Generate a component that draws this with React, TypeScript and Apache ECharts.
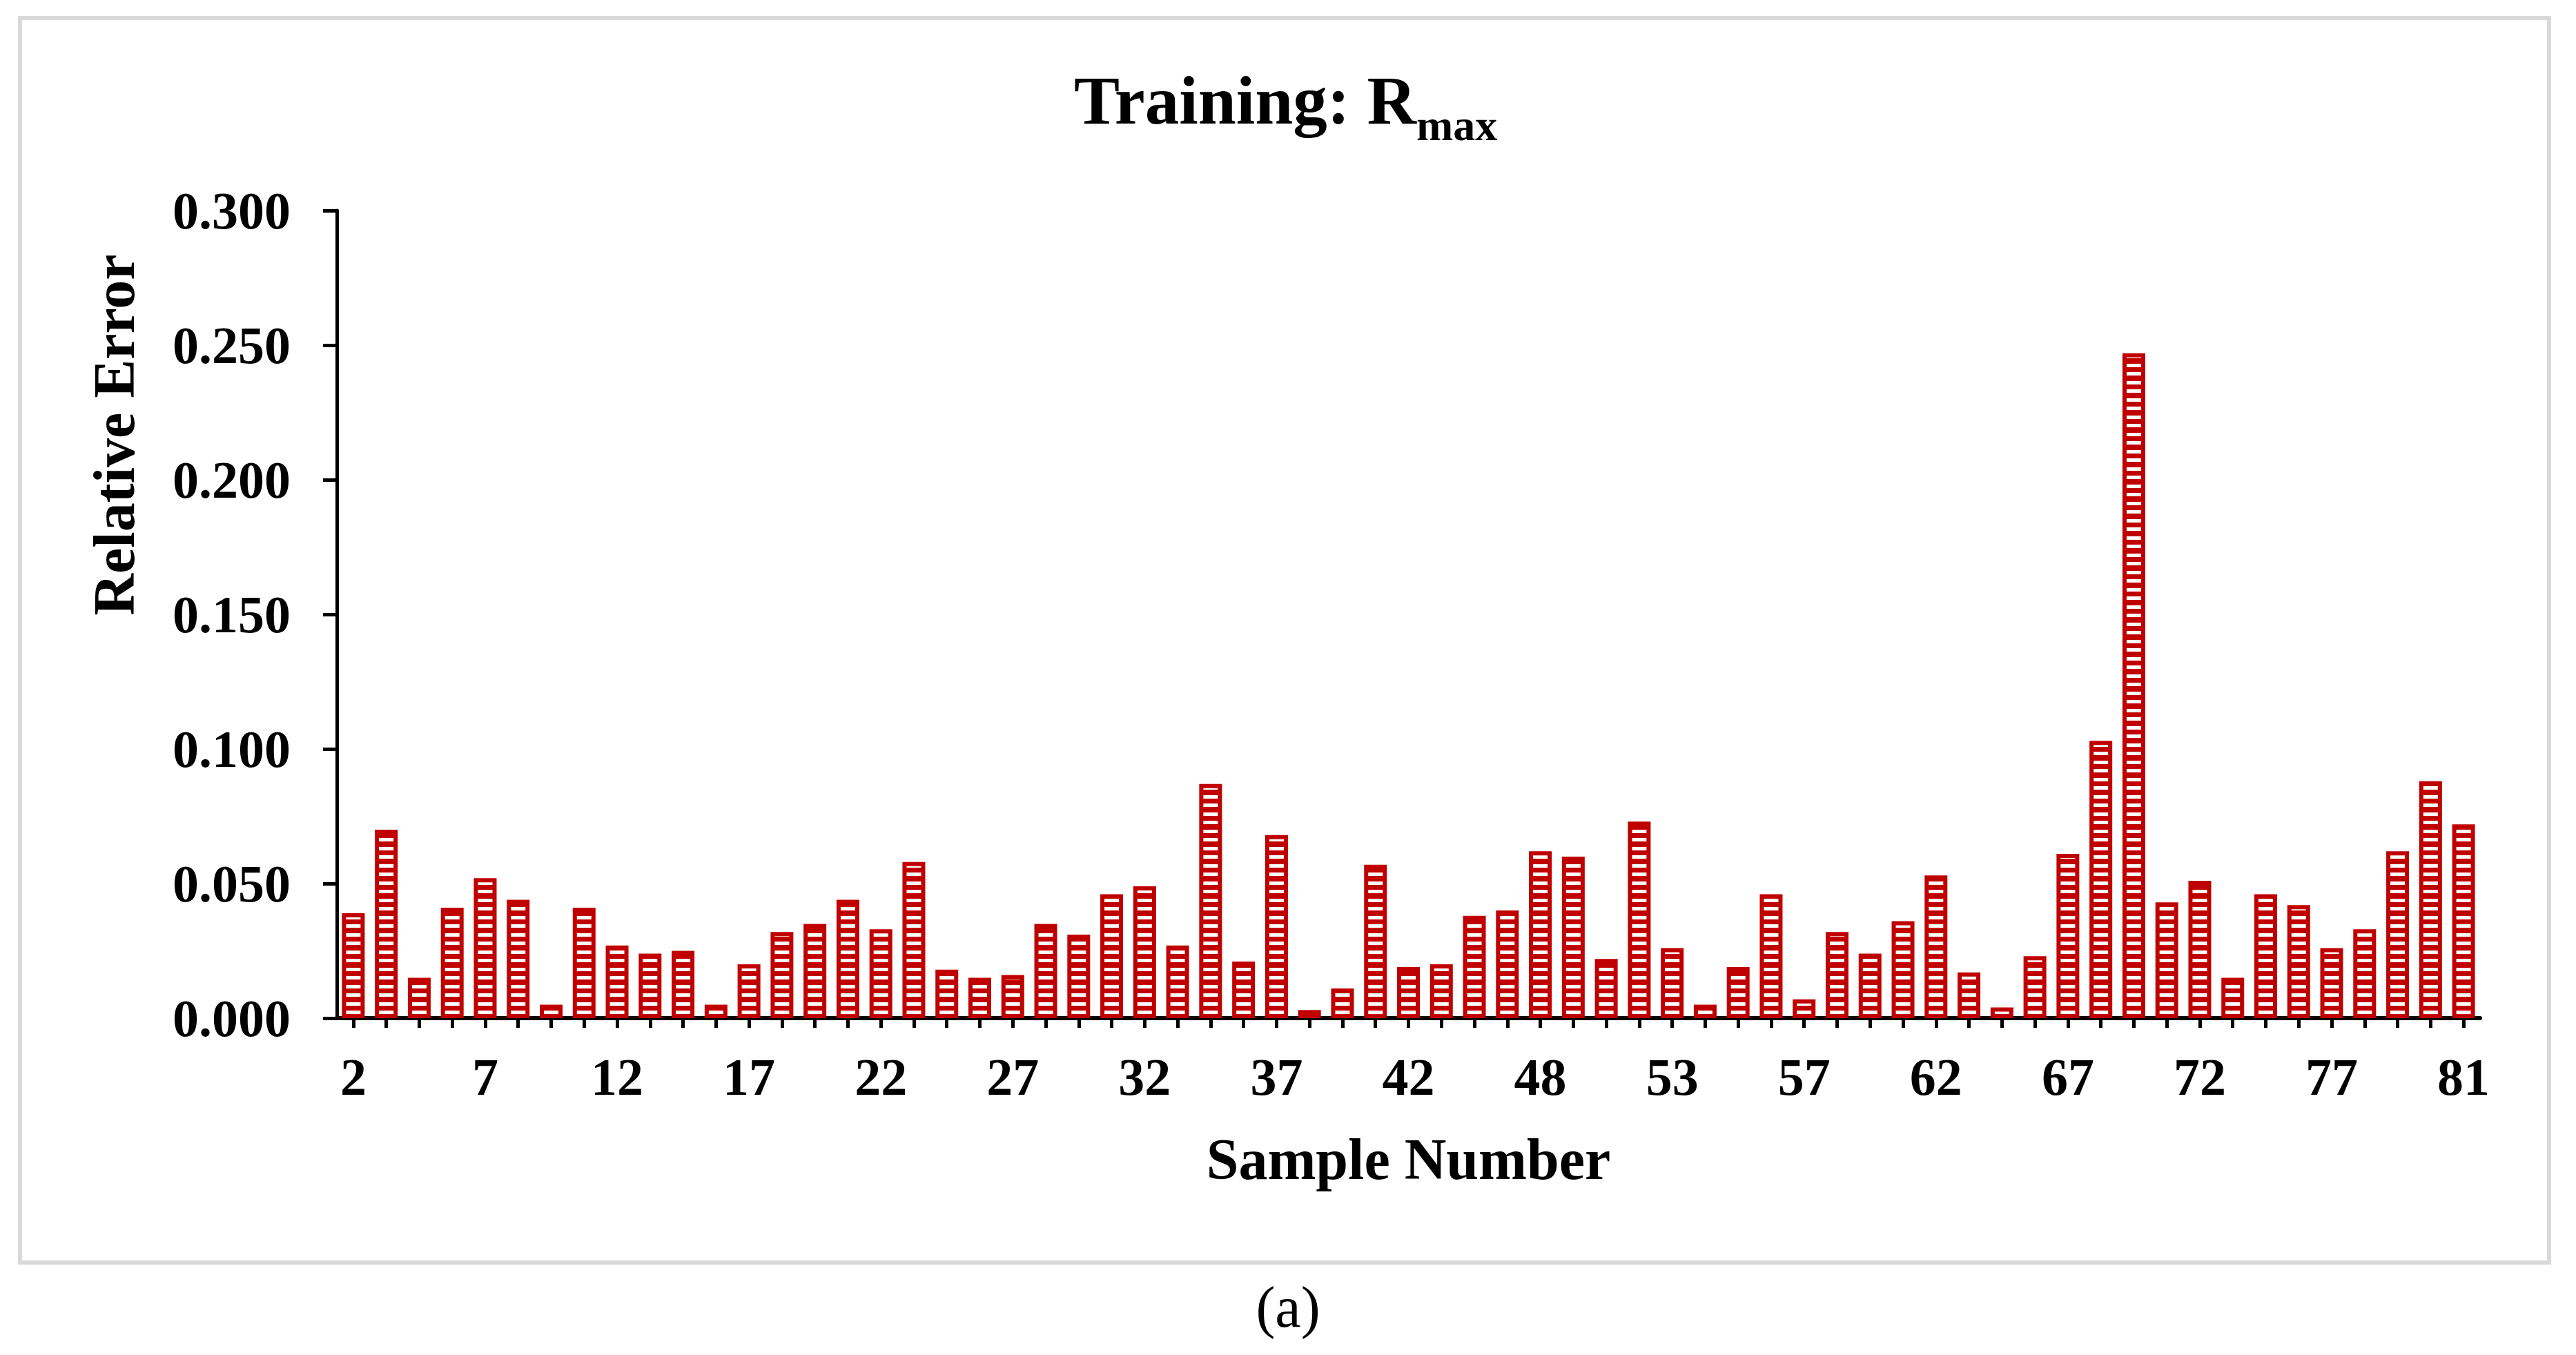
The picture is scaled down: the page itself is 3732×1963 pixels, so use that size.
import React, { useEffect, useRef } from "react";
import * as echarts from "echarts";

// Sample numbers of the training set (x categories); labels shown every 4th bar
const sampleNumbers = [
  2, 3, 5, 6, 7, 8, 10, 11, 12, 13, 15, 16, 17, 18, 20, 21, 22, 23, 25, 26,
  27, 28, 30, 31, 32, 33, 35, 36, 37, 38, 40, 41, 42, 43, 45, 47, 48, 49, 50, 52,
  53, 54, 55, 56, 57, 58, 60, 61, 62, 63, 65, 66, 67, 68, 70, 71, 72, 73, 75, 76,
  77, 78, 79, 80, 81,
];

// Relative error of R_max for each training sample
const relativeError = [
  0.039, 0.070, 0.015, 0.041, 0.052, 0.044, 0.005, 0.041, 0.027, 0.024,
  0.025, 0.005, 0.020, 0.032, 0.035, 0.044, 0.033, 0.058, 0.018, 0.015,
  0.016, 0.035, 0.031, 0.046, 0.049, 0.027, 0.087, 0.021, 0.068, 0.003,
  0.011, 0.057, 0.019, 0.020, 0.038, 0.040, 0.062, 0.060, 0.022, 0.073,
  0.026, 0.005, 0.019, 0.046, 0.007, 0.032, 0.024, 0.036, 0.053, 0.017,
  0.004, 0.023, 0.061, 0.103, 0.247, 0.043, 0.051, 0.015, 0.046, 0.042,
  0.026, 0.033, 0.062, 0.088, 0.072,
];

const yMin = 0;
const yMax = 0.3;
const yStep = 0.05;

const FONT = "'Liberation Serif', 'Times New Roman', Times, serif";
const RED = "#C00000";

function makeStripePattern(): HTMLCanvasElement {
  const c = document.createElement("canvas");
  c.width = 8;
  c.height = 25;
  const ctx = c.getContext("2d")!;
  ctx.fillStyle = RED;
  ctx.fillRect(0, 0, 8, 25);
  ctx.fillStyle = "#FFFFFF";
  ctx.fillRect(0, 2, 8, 5);
  ctx.fillRect(0, 14, 8, 5);
  return c;
}

export default function App() {
  const ref = useRef<HTMLDivElement>(null);

  useEffect(() => {
    if (!ref.current) return;
    const chart = echarts.init(ref.current, null, { renderer: "svg" });
    const pattern = makeStripePattern();

    const textBase = {
      fontFamily: FONT,
      fontWeight: "bold" as const,
      fill: "#000",
    };

    chart.setOption({
      animation: false,
      backgroundColor: "#FFFFFF",
      grid: { left: 488, right: 139, top: 305, bottom: 488, containLabel: false },
      xAxis: {
        type: "category",
        data: sampleNumbers.map(String),
        boundaryGap: true,
        name: "Sample Number",
        nameLocation: "middle",
        nameGap: 162,
        nameTextStyle: { fontFamily: FONT, fontWeight: "bold", fontSize: 84, color: "#000" },
        axisLine: { show: true, lineStyle: { color: "#000", width: 6 } },
        axisTick: {
          show: true,
          alignWithLabel: true,
          interval: 0,
          length: 14,
          lineStyle: { color: "#000", width: 5 },
        },
        axisLabel: {
          interval: 3,
          margin: 47,
          fontFamily: FONT,
          fontWeight: "bold",
          fontSize: 76,
          color: "#000",
        },
        splitLine: { show: false },
      },
      yAxis: {
        type: "value",
        min: yMin,
        max: yMax,
        interval: yStep,
        axisLine: { show: true, lineStyle: { color: "#000", width: 5 } },
        axisTick: { show: true, length: 20, lineStyle: { color: "#000", width: 5 } },
        axisLabel: {
          formatter: (v: number) => v.toFixed(3),
          margin: 67,
          fontFamily: FONT,
          fontWeight: "bold",
          fontSize: 76,
          color: "#000",
        },
        splitLine: { show: false },
      },
      series: [
        {
          type: "bar",
          data: relativeError,
          barWidth: 33,
          itemStyle: {
            color: { image: pattern, repeat: "repeat" },
            borderColor: RED,
            borderWidth: 6,
          },
        },
      ],
      graphic: [
        {
          type: "rect",
          silent: true,
          z: -10,
          shape: { x: 29, y: 26, width: 3664, height: 1803 },
          style: { fill: "none", stroke: "#D9D9D9", lineWidth: 6 },
        },
        {
          type: "text",
          x: 2052,
          y: 145,
          style: {
            ...textBase,
            text: "Training: R",
            fontSize: 99,
            align: "right",
            textAlign: "right",
            verticalAlign: "middle",
            textVerticalAlign: "middle",
          },
        },
        {
          type: "text",
          x: 2052,
          y: 181,
          style: {
            ...textBase,
            text: "max",
            fontSize: 64,
            align: "left",
            textAlign: "left",
            verticalAlign: "middle",
            textVerticalAlign: "middle",
          },
        },
        {
          type: "text",
          x: 165,
          y: 630,
          rotation: Math.PI / 2,
          style: {
            ...textBase,
            text: "Relative Error",
            fontSize: 84,
            align: "center",
            textAlign: "center",
            verticalAlign: "middle",
            textVerticalAlign: "middle",
          },
        },
        {
          type: "text",
          x: 1866,
          y: 1893,
          style: {
            text: "(a)",
            fontFamily: FONT,
            fontWeight: "normal",
            fontSize: 84,
            fill: "#000",
            align: "center",
            textAlign: "center",
            verticalAlign: "middle",
            textVerticalAlign: "middle",
          },
        },
      ],
    });

    return () => {
      chart.dispose();
    };
  }, []);

  return (
    <div
      ref={ref}
      style={{
        position: "fixed",
        left: 0,
        top: 0,
        width: "3732px",
        height: "1963px",
        background: "#FFFFFF",
      }}
    />
  );
}
